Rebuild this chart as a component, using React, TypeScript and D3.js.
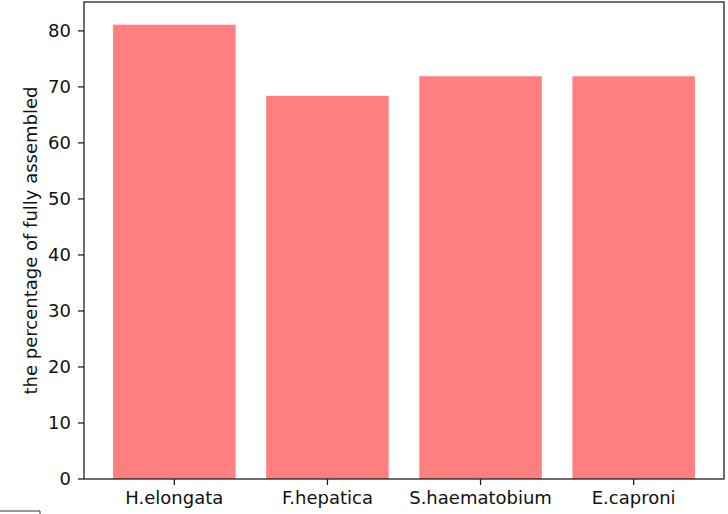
import React from "react";
import * as d3 from "d3";

const categories = ["H.elongata", "F.hepatica", "S.haematobium", "E.caproni"];
const values = [81.1, 68.4, 71.9, 71.9];
const yTicks = [0, 10, 20, 30, 40, 50, 60, 70, 80];

const W = 728, H = 514;
const left = 84, right = 724, top = 2, bottom = 479;

export default function App() {
  const x = d3.scaleLinear().domain([-0.59, categories.length - 1 + 0.59]).range([left, right]);
  const y = d3.scaleLinear().domain([0, d3.max(values)! * 1.05]).range([bottom, top]);
  const bw = x(0.8) - x(0);
  const font = "'DejaVu Sans', sans-serif";
  const fs = 18;
  return (
    <svg width={W} height={H} style={{ position: "absolute", left: 0, top: 0 }} fontFamily={font}>
      <rect width={W} height={H} fill="#fff" />
      {values.map((v, i) => (
        <rect key={i} x={x(i) - bw / 2} y={y(v)} width={bw} height={y(0) - y(v)} fill="#ff7f7f" />
      ))}
      <rect x={left} y={top} width={right - left} height={bottom - top} fill="none" stroke="#222" strokeWidth={1.3} />
      {yTicks.map((t) => (
        <g key={t}>
          <line x1={left - 6} x2={left} y1={y(t)} y2={y(t)} stroke="#222" strokeWidth={1.3} />
          <text x={left - 13} y={y(t)} dy="0.36em" textAnchor="end" fontSize={fs} fill="#111">{t}</text>
        </g>
      ))}
      {categories.map((c, i) => (
        <g key={c}>
          <line x1={x(i)} x2={x(i)} y1={bottom} y2={bottom + 6} stroke="#222" strokeWidth={1.3} />
          <text x={x(i)} y={504} textAnchor="middle" fontSize={fs} fill="#111">{c}</text>
        </g>
      ))}
      <text transform={`translate(37,${(top + bottom) / 2}) rotate(-90)`} textAnchor="middle" fontSize={fs} fill="#111">
        the percentage of fully assembled
      </text>
      <path d="M-1,514 V511 H40 V514" fill="none" stroke="#333" strokeWidth={1} />
    </svg>
  );
}
